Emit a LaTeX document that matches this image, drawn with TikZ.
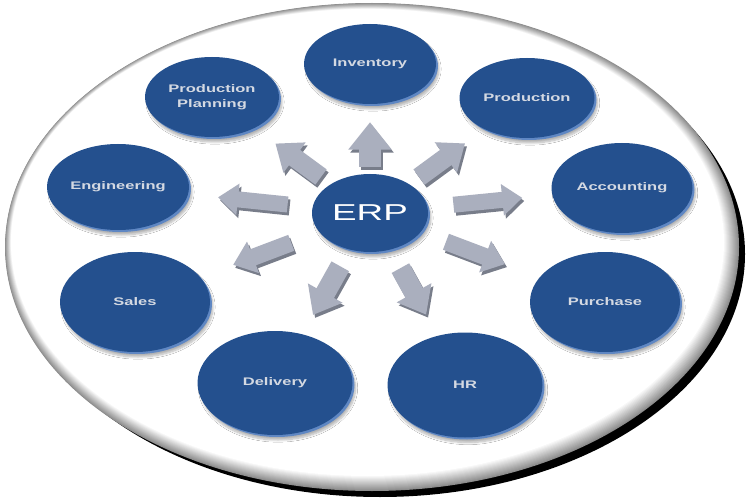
\documentclass[tikz,border=0pt]{standalone}
\usepackage{fontspec}
\setmainfont{Liberation Sans}
\newfontfamily\modfont[FakeStretch=1.5]{Liberation Sans}
\newfontfamily\erpfont[FakeStretch=1.6]{Liberation Sans}
\usetikzlibrary{shapes.geometric,arrows.meta,shadows.blur}
\definecolor{erpblue}{RGB}{36,80,142}
\definecolor{rimblue}{RGB}{95,135,195}
\definecolor{disktext}{RGB}{212,217,226}
\definecolor{arrowgray}{RGB}{170,175,190}
\definecolor{arrowdark}{RGB}{120,125,138}

\begin{document}
\begin{tikzpicture}[x=1pt, y=-1pt,
    disk/.style={ellipse, fill=erpblue, text=disktext, inner sep=0pt, align=center,
        font=\modfont\bfseries\fontsize{11}{15}\selectfont,
        blur shadow={shadow xshift=3pt, shadow yshift=-5pt, shadow opacity=30, shadow blur steps=8},
        preaction={fill=rimblue, transform canvas={shift={(2,2)}}}},
    flow/.style={line width=#1, draw=arrowgray, -{Triangle[length=0pt 1.25, width=0pt 1.9]}},
    flowshade/.style={flow=#1, draw=arrowdark, transform canvas={shift={(2,3)}}}]
    \useasboundingbox (0,0) rectangle (750,500);

    % platter
    \fill[black] (380,254) ellipse [x radius=365, y radius=243];
    \foreach \i in {0,...,16}{
        \pgfmathsetmacro\c{max(0,45-3*\i)}
        \fill[black!\c] (372-0.3*\i,247-0.3*\i) ellipse [x radius=367-0.7*\i, y radius=244-0.7*\i];
    }

    % modules
    \node[disk, minimum width=132pt, minimum height=80pt] (inv) at (370,64) {Inventory};
    \node[disk, minimum width=134pt, minimum height=80pt] (pplan) at (212,97) {Production\\Planning};
    \node[disk, minimum width=135pt, minimum height=80pt] (prod) at (527,98) {Production};
    \node[disk, minimum width=142pt, minimum height=86pt] (eng) at (118,187) {Engineering};
    \node[disk, minimum width=141pt, minimum height=90pt] (acc) at (622,188) {Accounting};
    \node[disk, minimum width=150pt, minimum height=100pt] (sales) at (135,302) {Sales};
    \node[disk, minimum width=150pt, minimum height=100pt] (purch) at (605,302) {Purchase};
    \node[disk, minimum width=155pt, minimum height=104pt] (deliv) at (275,383) {Delivery};
    \node[disk, minimum width=155pt, minimum height=105pt] (hr) at (465,385) {HR};

    % centre
    \node[disk, minimum width=116pt, minimum height=78pt, text=white,
        font=\erpfont\fontsize{23}{26}\selectfont] (erp) at (370,213) {ERP};

    % arrows
    \foreach \m/\w/\a/\b in {inv/22/7/18, pplan/19/12/26, prod/19/12/24, eng/16/25/30, acc/16/26/30,
        sales/17/30/35, purch/17/27/37, deliv/20/19/22, hr/20/21/24}{
        \draw[flowshade=\w pt, shorten <=\a pt, shorten >=\b pt] (erp) -- (\m);
        \draw[flow=\w pt, shorten <=\a pt, shorten >=\b pt] (erp) -- (\m);
    }
\end{tikzpicture}
\end{document}
